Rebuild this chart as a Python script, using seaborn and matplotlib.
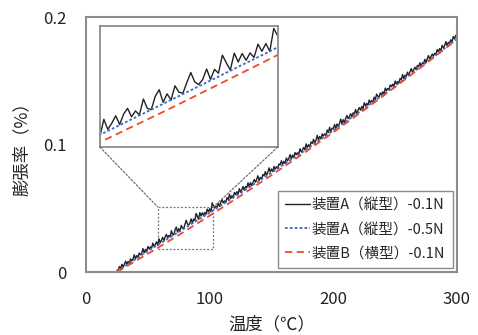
import numpy as np
import matplotlib
matplotlib.use("Agg")
import matplotlib.pyplot as plt
from matplotlib.patches import Rectangle, ConnectionPatch
import seaborn as sns

# Datos
temp_nodos = [25, 50, 75, 100, 125, 150, 175, 200, 225, 250, 275, 300]
a_05N = [0.0005, 0.0165, 0.0315, 0.0466, 0.0620, 0.0780, 0.0940, 0.1110,
         0.1283, 0.1460, 0.1643, 0.1830]
b_01N = [0.0, 0.0143, 0.0290, 0.0442, 0.0598, 0.0760, 0.0925, 0.1096,
         0.1271, 0.1451, 0.1636, 0.1825]

temp_a01 = np.arange(25, 301)
a_01N = [
    0.0015, 0.0011, 0.0043, 0.0029, 0.0061, 0.0039, 0.0061, 0.0085, 0.0060, 0.0083,
    0.0066, 0.0103, 0.0088, 0.0103, 0.0135, 0.0104, 0.0129, 0.0114, 0.0150, 0.0135,
    0.0145, 0.0184, 0.0151, 0.0177, 0.0157, 0.0200, 0.0181, 0.0197, 0.0186, 0.0227,
    0.0201, 0.0216, 0.0237, 0.0209, 0.0261, 0.0230, 0.0249, 0.0272, 0.0245, 0.0277,
    0.0295, 0.0269, 0.0287, 0.0275, 0.0324, 0.0295, 0.0291, 0.0332, 0.0353, 0.0314,
    0.0340, 0.0321, 0.0365, 0.0345, 0.0342, 0.0375, 0.0406, 0.0377, 0.0369, 0.0384,
    0.0417, 0.0385, 0.0416, 0.0404, 0.0460, 0.0436, 0.0414, 0.0466, 0.0439, 0.0465,
    0.0444, 0.0467, 0.0453, 0.0494, 0.0472, 0.0496, 0.0472, 0.0543, 0.0520, 0.0501,
    0.0517, 0.0508, 0.0539, 0.0515, 0.0546, 0.0568, 0.0542, 0.0558, 0.0548, 0.0584,
    0.0568, 0.0610, 0.0576, 0.0599, 0.0583, 0.0624, 0.0607, 0.0630, 0.0612, 0.0654,
    0.0626, 0.0646, 0.0671, 0.0641, 0.0671, 0.0662, 0.0700, 0.0670, 0.0701, 0.0678,
    0.0702, 0.0725, 0.0705, 0.0728, 0.0755, 0.0719, 0.0742, 0.0729, 0.0765, 0.0754,
    0.0788, 0.0759, 0.0783, 0.0817, 0.0784, 0.0808, 0.0788, 0.0828, 0.0807, 0.0826,
    0.0812, 0.0848, 0.0840, 0.0873, 0.0843, 0.0869, 0.0850, 0.0895, 0.0873, 0.0890,
    0.0921, 0.0888, 0.0917, 0.0897, 0.0937, 0.0920, 0.0936, 0.0921, 0.0967, 0.0942,
    0.0958, 0.0977, 0.0958, 0.1005, 0.0977, 0.0999, 0.0981, 0.1020, 0.1009, 0.1041,
    0.1013, 0.1035, 0.1072, 0.1036, 0.1063, 0.1044, 0.1084, 0.1066, 0.1084, 0.1069,
    0.1114, 0.1095, 0.1135, 0.1101, 0.1128, 0.1125, 0.1157, 0.1126, 0.1161, 0.1146,
    0.1165, 0.1200, 0.1164, 0.1195, 0.1172, 0.1204, 0.1228, 0.1203, 0.1218, 0.1242,
    0.1218, 0.1249, 0.1240, 0.1275, 0.1241, 0.1270, 0.1290, 0.1270, 0.1299, 0.1278,
    0.1328, 0.1305, 0.1322, 0.1309, 0.1349, 0.1328, 0.1345, 0.1333, 0.1372, 0.1353,
    0.1396, 0.1379, 0.1372, 0.1405, 0.1392, 0.1414, 0.1396, 0.1443, 0.1423, 0.1440,
    0.1430, 0.1467, 0.1454, 0.1474, 0.1455, 0.1498, 0.1475, 0.1495, 0.1482, 0.1519,
    0.1509, 0.1549, 0.1516, 0.1544, 0.1536, 0.1568, 0.1541, 0.1570, 0.1595, 0.1568,
    0.1588, 0.1607, 0.1588, 0.1620, 0.1611, 0.1641, 0.1616, 0.1641, 0.1636, 0.1668,
    0.1643, 0.1675, 0.1698, 0.1670, 0.1691, 0.1710, 0.1694, 0.1717, 0.1703, 0.1745,
    0.1728, 0.1753, 0.1735, 0.1778, 0.1760, 0.1775, 0.1808, 0.1775, 0.1802, 0.1795,
    0.1822, 0.1800, 0.1847, 0.1830, 0.1857, 0.1850,
]

etiquetas = ["装置A（縦型）-0.1N", "装置A（縦型）-0.5N", "装置B（横型）-0.1N"]
x_ticks = [0, 100, 200, 300]
y_ticks = [0, 0.1, 0.2]

sns.set_theme(style="white")
plt.rcParams['font.family'] = ['Noto Sans CJK JP', 'DejaVu Sans']

gris = "#8c8c8c"
negro = "#222222"
azul = "#3d66c8"
rojo = "#ee4a2c"


def dibujar(ax, con_label=True):
    sns.lineplot(x=temp_a01, y=a_01N, ax=ax, color=negro, lw=1.0,
                 label=etiquetas[0] if con_label else None)
    sns.lineplot(x=temp_nodos, y=a_05N, ax=ax, color=azul, lw=1.3,
                 linestyle=(0, (1.5, 1.2)), label=etiquetas[1] if con_label else None)
    sns.lineplot(x=temp_nodos, y=b_01N, ax=ax, color=rojo, lw=1.3,
                 linestyle=(0, (4, 2.5)), label=etiquetas[2] if con_label else None)


fig = plt.figure(figsize=(4.78, 3.35), dpi=100)
ax = fig.add_axes([0.180, 0.188, 0.776, 0.761])
dibujar(ax)
ax.set_xlim(0, 300)
ax.set_ylim(0, 0.2)
ax.set_xticks(x_ticks)
ax.set_xticklabels([str(v) for v in x_ticks])
ax.set_yticks(y_ticks)
ax.set_yticklabels(["0", "0.1", "0.2"])
ax.tick_params(axis='both', length=0, labelsize=12, colors="#222222")
ax.tick_params(axis='x', pad=14)
ax.tick_params(axis='y', pad=14)
for s in ax.spines.values():
    s.set_color(gris)
    s.set_linewidth(1.5)
ax.set_xlabel("温度（℃）", fontsize=12.5, labelpad=5, color="#222222")
ax.set_ylabel("膨張率（%）", fontsize=12.5, labelpad=9, color="#222222")

leg = ax.legend(loc="lower right", fontsize=10.5, handlelength=1.7,
                handletextpad=0.15, labelspacing=0.7, borderpad=0.5,
                borderaxespad=0.3, frameon=True, fancybox=False, framealpha=1)
leg.get_frame().set_edgecolor(gris)
leg.get_frame().set_linewidth(1.0)

# Recuadro del zoom
x0, x1, y0, y1 = 58, 103, 0.018, 0.051
ax.add_patch(Rectangle((x0, y0), x1 - x0, y1 - y0, fill=False,
                       ec="#707070", lw=0.9, ls=(0, (1.5, 1.5))))

# Grafico ampliado
axins = fig.add_axes([0.209, 0.561, 0.372, 0.361])
dibujar(axins, con_label=False)
axins.set_xlim(x0, x1)
axins.set_ylim(0.0175, 0.055)
axins.set_xticks([])
axins.set_yticks([])
axins.set_xlabel("")
axins.set_ylabel("")
for s in axins.spines.values():
    s.set_color(gris)
    s.set_linewidth(1.3)

for xa, xb in [(0, x0), (1, x1)]:
    con = ConnectionPatch(xyA=(xa, 0), coordsA=axins.transAxes,
                          xyB=(xb, y1), coordsB=ax.transData,
                          color="#707070", lw=0.9, ls=(0, (1.5, 1.5)))
    fig.add_artist(con)

fig.savefig("out.png", dpi=100)
